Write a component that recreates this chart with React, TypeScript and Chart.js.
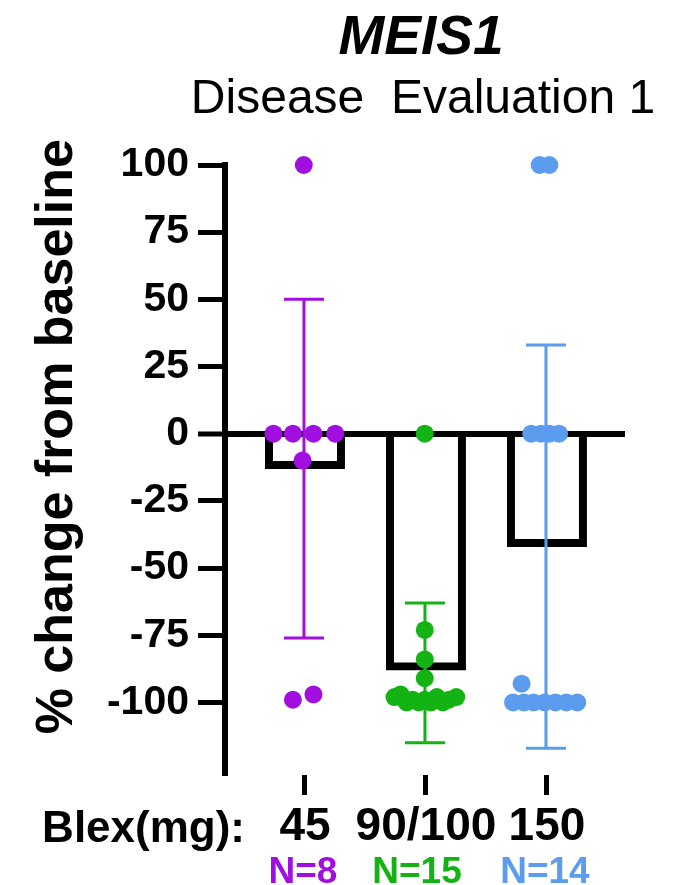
import React, { useEffect, useRef } from 'react';
import { Chart, registerables } from 'chart.js';

Chart.register(...registerables);

// ---- data ----
const categories = ['45', '90/100', '150'];
const groupSizes = ['N=8', 'N=15', 'N=14'];
const groupColors = ['#a10fe0', '#12b312', '#5b9cef'];
const barMeans = [-12, -87, -41];
const errLow = [-76, -115, -117];
const errHigh = [50, -63, 33];
const yTickValues = [100, 75, 50, 25, 0, -25, -50, -75, -100];

const dose45Values = [100, 0, 0, 0, 0, -10, -99, -97];
const dose45Jitter = [-0.01, -0.26, -0.1, 0.07, 0.25, -0.02, -0.1, 0.07];
const dose90Values = [0, -73, -84, -91, -98, -97, -100, -99, -100, -99, -100, -98, -100, -99, -98];
const dose90Jitter = [-0.01, -0.01, -0.01, -0.01, -0.26, -0.21, -0.16, -0.11, -0.06, -0.01, 0.04, 0.09, 0.14, 0.19, 0.25];
const dose150Values = [100, 100, 0, 0, 0, 0, -93, -100, -100, -100, -100, -100, -100, -100];
const dose150Jitter = [-0.06, 0.02, -0.13, -0.05, 0.02, 0.1, -0.21, -0.28, -0.19, -0.11, -0.02, 0.07, 0.16, 0.25];

const FONT = '"Liberation Sans", Arial, Helvetica, sans-serif';

const groupValues = [dose45Values, dose90Values, dose150Values];
const groupJitter = [dose45Jitter, dose90Jitter, dose150Jitter];

const decorPlugin = {
  id: 'decor',
  afterDatasetDraw(chart: any, args: any) {
    if (!args.meta || args.meta.type !== 'bar') return;
    const { ctx } = chart;
    const xs = chart.scales.x;
    const ys = chart.scales.y;
    ctx.save();
    categories.forEach((_, i) => {
      const x = xs.getPixelForValue(i + 1) - 1;
      const yLo = ys.getPixelForValue(errLow[i]);
      const yHi = ys.getPixelForValue(errHigh[i]);
      ctx.strokeStyle = groupColors[i];
      ctx.lineWidth = 3;
      ctx.beginPath();
      ctx.moveTo(x, yLo);
      ctx.lineTo(x, yHi);
      ctx.moveTo(x - 20, yLo);
      ctx.lineTo(x + 20, yLo);
      ctx.moveTo(x - 20, yHi);
      ctx.lineTo(x + 20, yHi);
      ctx.stroke();
    });
    ctx.restore();
  },
  afterDraw(chart: any) {
    const { ctx, chartArea } = chart;
    const xs = chart.scales.x;
    const ys = chart.scales.y;
    const cx = (chartArea.left + chartArea.right) / 2;
    ctx.save();
    ctx.fillStyle = '#000';
    ctx.textAlign = 'center';
    ctx.textBaseline = 'alphabetic';
    ctx.font = `italic bold 55px ${FONT}`;
    ctx.fillText('MEIS1', cx - 4, 54);
    ctx.font = `48px ${FONT}`;
    ctx.fillText('Disease  Evaluation 1', cx - 2, 113);

    // y axis title
    ctx.save();
    ctx.translate(58, ys.getPixelForValue(0) + 3);
    ctx.rotate(-Math.PI / 2);
    ctx.textBaseline = 'middle';
    ctx.font = `bold 52px ${FONT}`;
    ctx.fillText('% change from baseline', 0, 0);
    ctx.restore();

    // x axis caption
    ctx.textAlign = 'right';
    ctx.font = `bold 44px ${FONT}`;
    ctx.fillText('Blex(mg):', chartArea.left + 20, 842);

    // group sizes
    ctx.textAlign = 'center';
    ctx.font = `bold 37px ${FONT}`;
    groupSizes.forEach((t, i) => {
      ctx.fillStyle = groupColors[i];
      ctx.fillText(t, xs.getPixelForValue(i + 1) - 2 - (i === 1 ? 7 : 0), 883);
    });
    ctx.restore();
  },
};

export default function App() {
  const ref = useRef<HTMLCanvasElement>(null);
  useEffect(() => {
    if (!ref.current) return;
    const scatterSets = groupValues.map((vals, g) => ({
      type: 'scatter' as const,
      label: categories[g],
      data: vals.map((v, k) => ({ x: g + 1 + groupJitter[g][k], y: v })),
      backgroundColor: groupColors[g],
      borderWidth: 0,
      pointRadius: 9,
      pointHoverRadius: 9,
      clip: false as any,
      order: 1,
    }));
    const chart = new Chart(ref.current, {
      type: 'scatter',
      data: {
        datasets: [
          ...scatterSets,
          {
            type: 'bar' as const,
            label: 'mean',
            data: barMeans.map((m, i) => ({ x: i + 1, y: m })) as any,
            backgroundColor: 'rgba(255,255,255,0)',
            borderColor: '#000',
            borderWidth: 2,
            borderSkipped: 'start',
            inflateAmount: 3,
            barThickness: 74,
            order: 10,
          } as any,
        ],
      },
      options: {
        animation: false,
        responsive: false,
        devicePixelRatio: 1,
        layout: { padding: { top: 165, right: 52, left: 0, bottom: 0 } },
        plugins: { legend: { display: false }, tooltip: { enabled: false }, title: { display: false } },
        scales: {
          x: {
            type: 'linear',
            min: 0.339,
            max: 3.645,
            offset: false,
            afterBuildTicks: (s: any) => {
              s.ticks = categories.map((_, i) => ({ value: i + 1 }));
            },
            afterFit: (s: any) => {
              s.height = 110;
            },
            border: { display: false },
            grid: {
              drawOnChartArea: false,
              drawTicks: true,
              tickLength: 20,
              tickWidth: 5,
              tickColor: '#000',
              color: 'rgba(0,0,0,0)',
              offset: false,
            },
            ticks: {
              autoSkip: false,
              maxRotation: 0,
              minRotation: 0,
              color: '#000',
              padding: 5,
              font: { family: FONT, size: 46, weight: 'bold' },
              callback: (_v: any, i: number) => categories[i],
            },
          },
          y: {
            type: 'linear',
            min: -127,
            max: 100,
            afterBuildTicks: (s: any) => {
              s.ticks = yTickValues.map((v) => ({ value: v }));
            },
            afterFit: (s: any) => {
              s.width = 225;
            },
            border: { display: true, color: '#000', width: 6 },
            grid: {
              drawOnChartArea: true,
              drawTicks: true,
              tickLength: 27,
              tickWidth: 5,
              tickColor: '#000',
              color: (c: any) => (c.tick && c.tick.value === 0 ? '#000' : 'rgba(0,0,0,0)'),
              lineWidth: (c: any) => (c.tick && c.tick.value === 0 ? 6 : 1),
            },
            ticks: {
              color: '#000',
              padding: 9,
              font: { family: FONT, size: 41, weight: 'bold' },
              callback: (v: any) => String(v),
            },
          },
        },
      },
      plugins: [decorPlugin],
    } as any);
    return () => chart.destroy();
  }, []);
  return (
    <div style={{ position: 'absolute', left: 0, top: 0, width: 677, height: 885, background: '#fff' }}>
      <canvas ref={ref} width={677} height={885} style={{ display: 'block' }} />
    </div>
  );
}
